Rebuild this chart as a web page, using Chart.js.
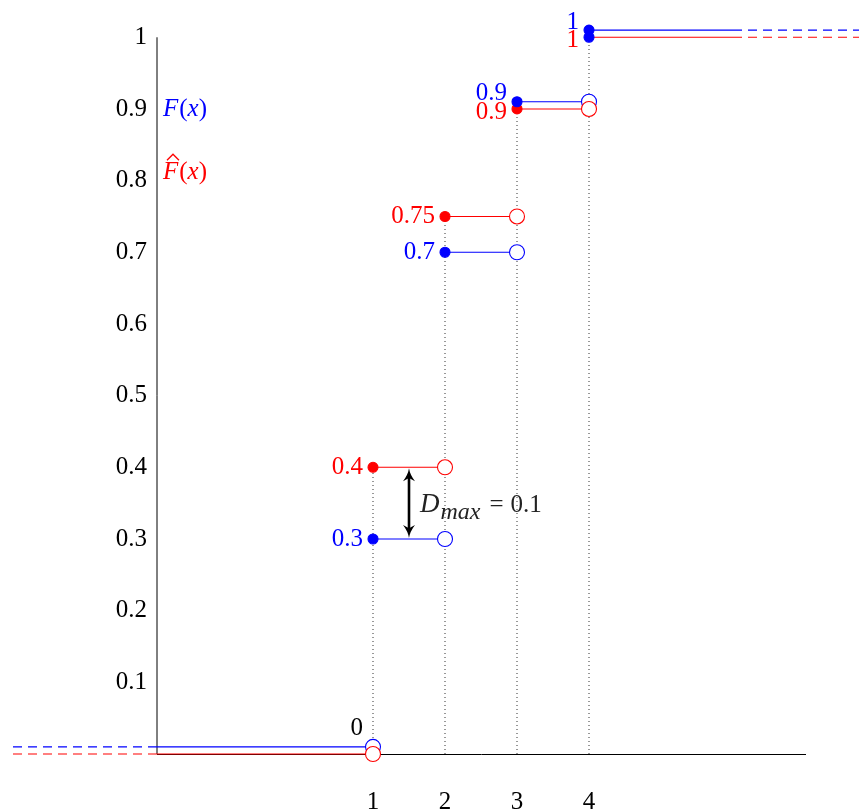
<!DOCTYPE html>
<html>
<head>
<meta charset="utf-8">
<script src="https://cdn.jsdelivr.net/npm/chart.js@4"></script>
<style>
  html, body { margin: 0; padding: 0; background: #fff; }
  #wrap { width: 859px; height: 810px; }
</style>
</head>
<body>
<div id="wrap"><canvas id="chart" width="859" height="810"></canvas></div>
<script>
// jump points and the two step functions
const BREAKS = [1, 2, 3, 4];
const F_LEVELS = [0, 0.3, 0.7, 0.9, 1];
const FHAT_LEVELS = [0, 0.4, 0.75, 0.9, 1];

const X_TICKS = [1, 2, 3, 4];
const Y_TICKS = [0.1, 0.2, 0.3, 0.4, 0.5, 0.6, 0.7, 0.8, 0.9, 1];

const X_MIN = -2;
const X_MAX = 7;
const Y_AXIS_TOP = 1;
const Y_ROOM = 1.04; // a bit of headroom so the shifted top dot is drawn
const DASH_LEFT = -4;
const SOLID_RIGHT = 6;
const DASH_RIGHT = 7.8;

const DMAX_X = 1.5;
const DMAX_LO = 0.3;
const DMAX_HI = 0.4;
const DMAX_TEXT = '0.1';

const BLUE = '#0000ff';
const RED = '#ff0000';
const SERIF = '"Liberation Serif", "DejaVu Serif", serif';
const OVERLAP_SHIFT = 0.01; // blue drawn a little above red where they coincide

const overlap = (i) => F_LEVELS[i] === FHAT_LEVELS[i];
const blueShift = (i) => (overlap(i) ? OVERLAP_SHIFT : 0);
const noShift = () => 0;

function stepPoints(levels, shift) {
  const pts = [];
  levels.forEach((lv, i) => {
    const x0 = i === 0 ? X_MIN : BREAKS[i - 1];
    const x1 = i === BREAKS.length ? SOLID_RIGHT : BREAKS[i];
    const y = lv + shift(i);
    pts.push({ x: x0, y }, { x: x1, y }, { x: x1, y: null });
  });
  return pts;
}

function dashPoints(levels, shift) {
  const n = levels.length - 1;
  const y0 = levels[0] + shift(0);
  const yn = levels[n] + shift(n);
  return [
    { x: DASH_LEFT, y: y0 }, { x: X_MIN, y: y0 }, { x: X_MIN, y: null },
    { x: SOLID_RIGHT, y: yn }, { x: DASH_RIGHT, y: yn },
  ];
}

function filledDots(levels, shift) {
  return BREAKS.map((b, j) => ({ x: b, y: levels[j + 1] + shift(j + 1), v: levels[j + 1] }));
}

function openDots(levels, shift) {
  return BREAKS.map((b, j) => ({ x: b, y: levels[j] + shift(j), v: levels[j] }));
}

function dottedVerticals() {
  const pts = [];
  BREAKS.forEach((b, j) => {
    const top = Math.max(F_LEVELS[j + 1] + blueShift(j + 1), FHAT_LEVELS[j + 1]);
    pts.push({ x: b, y: 0 }, { x: b, y: top }, { x: b, y: null });
  });
  return pts;
}

function lineSet(data, color, dash, order, width = 1.1) {
  return {
    type: 'line', data, borderColor: color, borderWidth: width, borderDash: dash,
    pointRadius: 0, spanGaps: false, fill: false, clip: false, order,
  };
}

function dotSet(data, stroke, fill, radius, order) {
  return {
    type: 'scatter', data, showLine: false, clip: false, order,
    pointRadius: radius, pointHoverRadius: radius, borderWidth: 1.1,
    pointBorderColor: stroke, pointBackgroundColor: fill,
  };
}

function drawRuns(ctx, runs, x, y, color) {
  ctx.fillStyle = color;
  ctx.textAlign = 'left';
  ctx.textBaseline = 'alphabetic';
  let cx = x;
  runs.forEach((r) => {
    ctx.font = `${r.italic ? 'italic ' : ''}${r.size || 25}px ${SERIF}`;
    ctx.fillText(r.text, cx, y + (r.dy || 0));
    cx += ctx.measureText(r.text).width + (r.gap || 0);
  });
  return cx;
}

function arrowHead(ctx, x, y, dir) {
  // dir = -1 points up, 1 points down
  const len = 13;
  const half = 6;
  ctx.beginPath();
  ctx.moveTo(x, y);
  ctx.quadraticCurveTo(x - 1, y - dir * len * 0.5, x - half, y - dir * len);
  ctx.lineTo(x, y - dir * len * 0.75);
  ctx.lineTo(x + half, y - dir * len);
  ctx.quadraticCurveTo(x + 1, y - dir * len * 0.5, x, y);
  ctx.fill();
}

const annotations = {
  id: 'annotations',
  afterDatasetsDraw(chart) {
    const { ctx, scales: { x, y } } = chart;
    ctx.save();

    // value labels left of the filled dots
    ctx.font = `25px ${SERIF}`;
    ctx.textAlign = 'right';
    ctx.textBaseline = 'middle';
    BREAKS.forEach((b, j) => {
      const i = j + 1;
      const px = x.getPixelForValue(b) - 10;
      const dyB = overlap(i) ? -8 : 0;
      const dyR = overlap(i) ? 3 : 0;
      ctx.fillStyle = BLUE;
      ctx.fillText(String(F_LEVELS[i]), px, y.getPixelForValue(F_LEVELS[i] + blueShift(i)) + dyB);
      ctx.fillStyle = RED;
      ctx.fillText(String(FHAT_LEVELS[i]), px, y.getPixelForValue(FHAT_LEVELS[i]) + dyR);
    });
    ctx.fillStyle = '#000';
    ctx.fillText(String(F_LEVELS[0]), x.getPixelForValue(BREAKS[0]) - 10,
      y.getPixelForValue(F_LEVELS[0] + blueShift(0)) - 18);

    // legend-like labels
    const lx = x.getPixelForValue(X_MIN) + 6;
    const top = y.getPixelForValue(Y_AXIS_TOP);
    drawRuns(ctx, [
      { text: 'F', italic: true, gap: 1 }, { text: '(' }, { text: 'x', italic: true }, { text: ')' },
    ], lx, top + 79, BLUE);
    const fy = top + 142;
    drawRuns(ctx, [
      { text: 'F', italic: true, gap: 1 }, { text: '(' }, { text: 'x', italic: true }, { text: ')' },
    ], lx, fy, RED);
    ctx.strokeStyle = RED;
    ctx.lineWidth = 1.3;
    ctx.beginPath();
    ctx.moveTo(lx + 4, fy - 19);
    ctx.lineTo(lx + 10, fy - 25);
    ctx.lineTo(lx + 16, fy - 19);
    ctx.stroke();

    // D_max arrow
    const ax = x.getPixelForValue(DMAX_X);
    const yTop = y.getPixelForValue(DMAX_HI);
    const yBot = y.getPixelForValue(DMAX_LO);
    ctx.strokeStyle = '#000';
    ctx.fillStyle = '#000';
    ctx.lineWidth = 2.6;
    ctx.beginPath();
    ctx.moveTo(ax, yTop + 8);
    ctx.lineTo(ax, yBot - 8);
    ctx.stroke();
    arrowHead(ctx, ax, yTop + 1, -1);
    arrowHead(ctx, ax, yBot - 1, 1);

    const ty = (yTop + yBot) / 2 + 9;
    drawRuns(ctx, [
      { text: 'D', italic: true, size: 27, gap: 1 },
      { text: 'max', italic: true, size: 24, dy: 7, gap: 9 },
      { text: '=', gap: 7 },
      { text: DMAX_TEXT },
    ], ax + 11, ty, '#222');

    ctx.restore();
  },
};

const datasets = [
  dotSet(filledDots(F_LEVELS, blueShift), BLUE, BLUE, 5, 0),
  dotSet(filledDots(FHAT_LEVELS, noShift), (c) => (c.raw && c.raw.v === 1 ? BLUE : RED),
    (c) => (c.raw && c.raw.v === 1 ? BLUE : RED), 5, 1),
  dotSet(openDots(FHAT_LEVELS, noShift), RED, '#fff', 7.5, 2),
  dotSet(openDots(F_LEVELS, blueShift), BLUE, '#fff', 7.5, 3),
  lineSet(stepPoints(F_LEVELS, blueShift), BLUE, [], 4),
  lineSet(stepPoints(FHAT_LEVELS, noShift), RED, [], 5),
  lineSet(dashPoints(F_LEVELS, blueShift), BLUE, [9, 6], 6),
  lineSet(dashPoints(FHAT_LEVELS, noShift), RED, [9, 6], 7),
  lineSet(dottedVerticals(), '#333', [1, 3], 9, 1),
  // y axis line, stopping at 1
  lineSet([{ x: X_MIN, y: 0 }, { x: X_MIN, y: Y_AXIS_TOP }], '#000', [], 10, 1),
];

new Chart(document.getElementById('chart'), {
  data: { datasets },
  options: {
    responsive: false,
    animation: false,
    events: [],
    layout: { padding: { top: 7, right: 54, left: 0, bottom: 0 } },
    plugins: { legend: { display: false }, tooltip: { enabled: false } },
    scales: {
      x: {
        type: 'linear',
        min: X_MIN,
        max: X_MAX,
        afterBuildTicks: (s) => { s.ticks = X_TICKS.map((v) => ({ value: v })); },
        afterFit: (s) => { s.height = 56; s.paddingLeft = 0; s.paddingRight = 0; },
        grid: { display: false, drawTicks: false },
        border: { display: true, color: '#000', width: 1 },
        ticks: { color: '#000', padding: 33, font: { family: SERIF, size: 25 } },
      },
      y: {
        type: 'linear',
        min: 0,
        max: Y_ROOM,
        afterBuildTicks: (s) => { s.ticks = Y_TICKS.map((v) => ({ value: v })); },
        afterFit: (s) => { s.width = 157; s.paddingTop = 0; s.paddingBottom = 0; },
        grid: { display: false, drawTicks: false },
        border: { display: false },
        ticks: { color: '#000', padding: 10, font: { family: SERIF, size: 25 },
          callback: (v) => String(v) },
      },
    },
  },
  plugins: [annotations],
});
</script>
</body>
</html>
